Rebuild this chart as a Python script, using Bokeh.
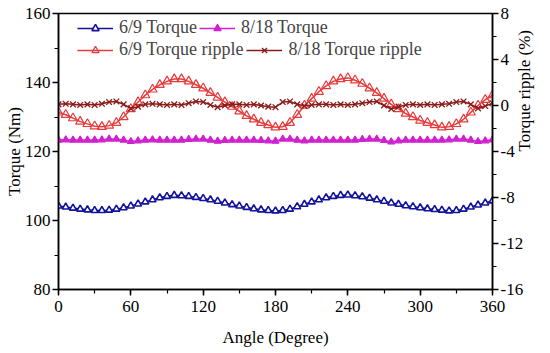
import math
from bokeh.plotting import figure
from bokeh.models import (Range1d, LinearAxis, SingleIntervalTicker, Legend, LegendItem,
                          CustomJSTickFormatter, Title)
from bokeh.embed import file_html
from bokeh.resources import INLINE

angle = list(range(0, 361, 6))

torque_69 = [104.2, 103.9, 103.6, 103.3, 103.1, 102.9, 102.9, 103.0, 103.3, 103.7,
             104.2, 104.8, 105.4, 106.0, 106.6, 107.0, 107.3, 107.2, 107.0, 106.7,
             106.4, 106.0, 105.6, 105.1, 104.6, 104.2, 103.8, 103.4, 103.1, 102.9,
             102.8, 102.9, 103.3, 104.0, 104.7, 105.4, 106.0, 106.6, 107.0, 107.3,
             107.4, 107.2, 106.9, 106.5, 106.0, 105.6, 105.1, 104.7, 104.3, 104.0,
             103.7, 103.4, 103.2, 103.0, 102.8, 102.9, 103.3, 103.9, 104.5, 105.1,
             105.7]

torque_818 = [123.3, 123.4, 123.3, 123.3, 123.3, 123.3, 123.4, 123.6, 123.6, 123.3,
              122.9, 123.1, 123.3, 123.4, 123.3, 123.3, 123.3, 123.3, 123.5, 123.6,
              123.6, 123.3, 123.0, 123.2, 123.3, 123.3, 123.3, 123.3, 123.2, 123.1,
              123.0, 123.6, 123.6, 123.3, 123.1, 123.3, 123.3, 123.3, 123.3, 123.3,
              123.3, 123.3, 123.5, 123.6, 123.6, 123.2, 122.8, 123.1, 123.3, 123.3,
              123.3, 123.3, 123.3, 123.3, 123.4, 123.6, 123.6, 123.3, 122.9, 123.1,
              123.4]

ripple_69 = [-0.6, -0.8, -1.1, -1.4, -1.6, -1.8, -1.85, -1.75, -1.5, -1.0,
             -0.3, 0.3, 0.9, 1.4, 1.8, 2.1, 2.3, 2.3, 2.1, 1.8,
             1.5, 1.1, 0.7, 0.3, -0.1, -0.5, -0.9, -1.2, -1.5, -1.7,
             -1.9, -1.85, -1.5, -0.8, 0.0, 0.6, 1.2, 1.7, 2.1, 2.3,
             2.4, 2.2, 1.9, 1.5, 1.1, 0.6, 0.1, -0.3, -0.7, -1.0,
             -1.3, -1.5, -1.7, -1.9, -1.85, -1.6, -1.2, -0.6, 0.0, 0.5,
             0.9]

ripple_818 = [0.1, 0.15, 0.1, 0.05, 0.1, 0.05, 0.15, 0.3, 0.35, 0.1,
              -0.25, -0.1, 0.1, 0.15, 0.1, 0.05, 0.1, 0.05, 0.2, 0.35,
              0.3, 0.05, -0.15, 0.0, 0.1, 0.1, 0.05, 0.1, 0.0, -0.1,
              -0.15, 0.3, 0.35, 0.1, -0.05, 0.05, 0.1, 0.1, 0.05, 0.1,
              0.05, 0.1, 0.2, 0.3, 0.35, 0.0, -0.3, -0.1, 0.05, 0.1,
              0.05, 0.1, 0.05, 0.1, 0.15, 0.3, 0.35, 0.1, -0.25, -0.05,
              0.2]

FONT = "Liberation Serif"
FS = "17px"

p = figure(width=550, height=353, output_backend="svg", toolbar_location=None,
           x_range=Range1d(0, 360), y_range=Range1d(80, 160),
           min_border_left=58, min_border_right=58, min_border_top=13, min_border_bottom=64)
p.extra_y_ranges = {"rip": Range1d(-16, 8)}
p.xgrid.visible = False
p.ygrid.visible = False
p.outline_line_color = "black"
p.outline_line_width = 1.5
p.background_fill_color = "white"
p.border_fill_color = "white"

BLUE = "#12129a"
MAG = "#d020d0"
RED = "#e83a3a"
BROWN = "#8b1a1a"

l1 = p.line(angle, torque_69, color=BLUE, line_width=1.5)
s1 = p.scatter(angle, torque_69, marker="triangle", size=7, line_color=BLUE, fill_color="white", line_width=1.6)
l2 = p.line(angle, torque_818, color=MAG, line_width=1.5)
s2 = p.scatter(angle, torque_818, marker="triangle", size=7, line_color=MAG, fill_color=MAG, line_width=1.2)
l3 = p.line(angle, ripple_69, color=RED, line_width=1.5, y_range_name="rip")
s3 = p.scatter(angle, ripple_69, marker="triangle", size=9, line_color=RED, fill_color=None, line_width=1.2, y_range_name="rip")
l4 = p.line(angle, ripple_818, color=BROWN, line_width=1.5, y_range_name="rip")
s4 = p.scatter(angle, ripple_818, marker="x", size=8, line_color=BROWN, line_width=1.3, y_range_name="rip")

fmt = CustomJSTickFormatter(code="return String(tick);")

def style(ax):
    ax.axis_line_width = 1.5
    ax.major_tick_line_width = 1.5
    ax.minor_tick_line_width = 1.2
    ax.major_tick_out = 6
    ax.major_tick_in = 0
    ax.minor_tick_out = 4
    ax.minor_tick_in = 0
    ax.major_label_text_font = FONT
    ax.major_label_text_font_size = FS
    ax.major_label_text_color = "black"
    ax.axis_label_text_font = FONT
    ax.axis_label_text_font_size = FS
    ax.axis_label_text_font_style = "normal"
    ax.axis_label_text_color = "black"
    ax.major_label_standoff = 2
    ax.axis_label_standoff = 2
    ax.formatter = fmt

xa = p.xaxis[0]
xa.ticker = SingleIntervalTicker(interval=60, num_minor_ticks=2)
xa.axis_label = "Angle (Degree)"
style(xa)
xa.major_label_standoff = 5
xa.axis_label_standoff = 13

ya = p.yaxis[0]
ya.ticker = SingleIntervalTicker(interval=20, num_minor_ticks=2)
ya.axis_label = "Torque (Nm)"
style(ya)
ya.axis_label_standoff = -2

ra = LinearAxis(y_range_name="rip", ticker=SingleIntervalTicker(interval=4, num_minor_ticks=2))
style(ra)
if "axis_label_orientation" in ra.properties():
    ra.axis_label = "Torque ripple (%)"
    ra.axis_label_orientation = math.pi / 2
    ra.axis_label_standoff = -2
    p.add_layout(ra, "right")
else:
    p.add_layout(ra, "right")
    t = Title(text="Torque ripple (%)", align="center", text_font=FONT,
              text_font_size=FS, text_font_style="normal", standoff=0)
    p.add_layout(t, "right")

def mk_legend(items, loc, spacing):
    lg = Legend(items=items, location=loc, orientation="horizontal")
    lg.border_line_color = None
    lg.background_fill_alpha = 0
    lg.padding = 0
    lg.margin = 0
    lg.spacing = spacing
    lg.glyph_width = 36
    lg.glyph_height = 18
    lg.label_standoff = 6
    lg.label_text_font = FONT
    lg.label_text_font_size = "18px"
    lg.label_height = 18
    return lg

leg1 = mk_legend([LegendItem(label="6/9 Torque", renderers=[l1, s1]),
                  LegendItem(label="8/18 Torque", renderers=[l2, s2])], (19, 251), 2)
leg2 = mk_legend([LegendItem(label="6/9 Torque ripple", renderers=[l3, s3]),
                  LegendItem(label="8/18 Torque ripple", renderers=[l4, s4])], (19, 229), 3)
p.add_layout(leg1)
p.add_layout(leg2)

open("out.html", "w").write(file_html(p, INLINE))
